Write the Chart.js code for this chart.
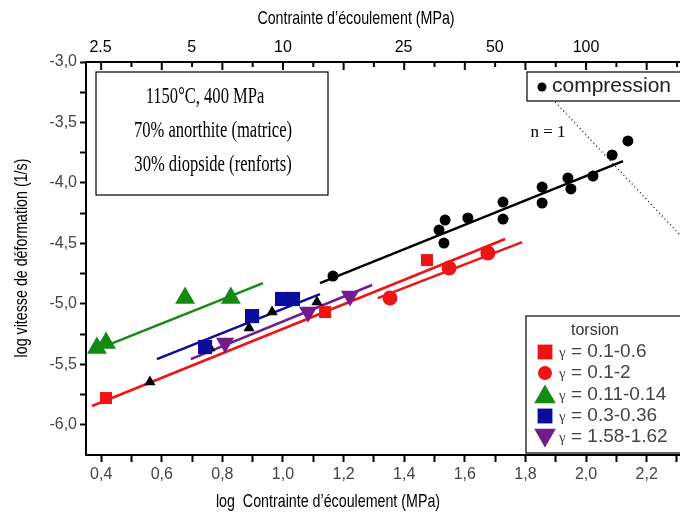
<!DOCTYPE html>
<html>
<head>
<meta charset="utf-8">
<script src="https://cdn.jsdelivr.net/npm/chart.js@4.4.0/dist/chart.umd.min.js"></script>
<style>
  html, body { margin: 0; padding: 0; background: #fff; }
  #wrap { width: 680px; height: 515px; }
</style>
</head>
<body>
<div id="wrap"><canvas id="chart" width="680" height="515"></canvas></div>
<script>
// log stress (x) / log strain rate (y)
const compressionX = [1.165, 1.515, 1.535, 1.531, 1.610, 1.726, 1.726, 1.855, 1.855, 1.940, 1.950, 2.023, 2.086, 2.138];
const compressionY = [-4.770, -4.390, -4.307, -4.497, -4.290, -4.158, -4.299, -4.034, -4.166, -3.959, -4.050, -3.943, -3.769, -3.653];

const redSquareX = [0.416, 1.139, 1.475];
const redSquareY = [-5.779, -5.068, -4.638];
const redCircleX = [1.353, 1.548, 1.676];
const redCircleY = [-4.952, -4.704, -4.580];
const greenX = [0.386, 0.416, 0.677, 0.828];
const greenY = [-5.366, -5.324, -4.952, -4.952];
const blueX = [0.743, 0.898, 0.997, 1.033];
const blueY = [-5.357, -5.101, -4.960, -4.960];
const purpleX = [0.809, 1.083, 1.221];
const purpleY = [-5.324, -5.068, -4.935];
const smallTriX = [0.561, 0.759, 0.888, 0.964, 0.990, 1.112];
const smallTriY = [-5.647, -5.366, -5.200, -5.068, -4.985, -4.985];

// fitted lines (end points)
const fitCompressionX = [1.122, 2.122];
const fitCompressionY = [-4.828, -3.819];
const fitRed1X = [0.370, 1.733];
const fitRed1Y = [-5.845, -4.464];
const fitRed2X = [1.313, 1.789];
const fitRed2Y = [-4.952, -4.489];
const fitGreenX = [0.380, 0.934];
const fitGreenY = [-5.382, -4.828];
const fitBlueX = [0.584, 1.122];
const fitBlueY = [-5.457, -4.919];
const fitPurpleX = [0.696, 1.294];
const fitPurpleY = [-5.457, -4.844];
const dottedX = [1.898, 2.310];
const dottedY = [-3.331, -4.431];

const torsionLabels = ['0.1-0.6', '0.1-2', '0.11-0.14', '0.3-0.36', '1.58-1.62'];
const infoLines = ['1150°C, 400 MPa', '70% anorthite (matrice)', '30% diopside (renforts)'];

const xTickValues = [0.4, 0.5, 0.6, 0.7, 0.8, 0.9, 1.0, 1.1, 1.2, 1.3, 1.4, 1.5, 1.6, 1.7, 1.8, 1.9, 2.0, 2.1, 2.2, 2.3];
const yTickValues = [-6.0, -5.75, -5.5, -5.25, -5.0, -4.75, -4.5, -4.25, -4.0, -3.75, -3.5, -3.25, -3.0];
const topTickValues = [2.5, 5, 10, 25, 50, 100];

const RED = '#ee1414';
const GREEN = '#138a13';
const BLUE = '#0c0c9c';
const PURPLE = '#741a8a';

const pts = (xs, ys) => xs.map((x, i) => ({ x, y: ys[i] }));
const comma = v => v.toFixed(1).replace('.', ',');
const isMajor = v => Math.abs(v * 5 - Math.round(v * 5)) < 1e-6;

function markers(label, xs, ys, color, style, radius, rotation) {
  return {
    label, data: pts(xs, ys), showLine: false,
    pointStyle: style, pointRadius: radius, pointRotation: rotation || 0,
    backgroundColor: color, borderColor: color, pointBorderWidth: 0,
  };
}
function fit(xs, ys, color, width, dash) {
  return {
    data: pts(xs, ys), showLine: true, pointRadius: 0,
    borderColor: color, borderWidth: width, borderDash: dash || [],
  };
}

const datasets = [
  markers('compression', compressionX, compressionY, '#000', 'circle', 5.5),
  markers('0.1-0.6', redSquareX, redSquareY, RED, 'rect', 8.5),
  markers('0.1-2', redCircleX, redCircleY, RED, 'circle', 7.5),
  markers('0.11-0.14', greenX, greenY, GREEN, 'triangle', 11.5),
  markers('0.3-0.36', blueX, blueY, BLUE, 'rect', 10),
  markers('1.58-1.62', purpleX, purpleY, PURPLE, 'triangle', 10.5, 180),
  markers('', smallTriX, smallTriY, '#000', 'triangle', 6.5),
  fit(fitCompressionX, fitCompressionY, '#000', 2.5),
  fit(fitRed1X, fitRed1Y, RED, 2.5),
  fit(fitRed2X, fitRed2Y, RED, 2.5),
  fit(fitGreenX, fitGreenY, GREEN, 2.5),
  fit(fitBlueX, fitBlueY, BLUE, 2.5),
  fit(fitPurpleX, fitPurpleY, PURPLE, 2.5),
  fit(dottedX, dottedY, '#000', 1.2, [1, 3]),
];

function narrowText(ctx, text, x, y, sx, rot) {
  ctx.save();
  ctx.translate(x, y);
  if (rot) ctx.rotate(rot);
  ctx.scale(sx, 1);
  ctx.fillText(text, 0, 0);
  ctx.restore();
}

const overlay = {
  id: 'overlay',
  afterDraw(chart) {
    const ctx = chart.ctx;
    const a = chart.chartArea;
    const xs = chart.scales.x;
    ctx.save();

    // inward ticks on the top border
    ctx.strokeStyle = '#000';
    ctx.lineWidth = 2;
    xTickValues.forEach(v => {
      const px = xs.getPixelForValue(v);
      ctx.beginPath();
      ctx.moveTo(px, a.top);
      ctx.lineTo(px, a.top + (isMajor(v) ? 8 : 5));
      ctx.stroke();
    });

    // axis titles
    ctx.fillStyle = '#000';
    ctx.textAlign = 'center';
    ctx.textBaseline = 'middle';
    ctx.font = '19px "Liberation Sans", Arial, sans-serif';
    narrowText(ctx, 'Contrainte d\u2019écoulement (MPa)', 356, 19, 0.75);
    narrowText(ctx, 'log  Contrainte d\u2019écoulement (MPa)', 328, 502, 0.75);
    narrowText(ctx, 'log vitesse de déformation (1/s)', 22, 258, 0.75, -Math.PI / 2);

    // info box
    ctx.lineWidth = 1.2;
    ctx.strokeRect(a.left + 10, a.top + 10, 232, 123);
    ctx.font = '24px "Liberation Serif", "Times New Roman", serif';
    narrowText(ctx, infoLines[0], 205, 97, 0.69);
    narrowText(ctx, infoLines[1], 213, 131, 0.69);
    narrowText(ctx, infoLines[2], 213, 165, 0.69);

    // n = 1
    ctx.font = '17px "Liberation Serif", serif';
    ctx.fillText('n = 1', 548, 133);

    // compression legend
    const cx = a.right - 153, cy = a.top + 10;
    ctx.fillStyle = '#fff';
    ctx.fillRect(cx, cy, 180, 29);
    ctx.strokeRect(cx, cy, 180, 29);
    const c0 = datasets[0];
    ctx.fillStyle = c0.backgroundColor;
    Chart.helpers.drawPoint(ctx, { pointStyle: c0.pointStyle, radius: 4.5, borderWidth: 0 }, cx + 15, cy + 15);
    ctx.fillStyle = '#222';
    ctx.textAlign = 'left';
    ctx.font = '21px "Liberation Sans", Arial, sans-serif';
    ctx.fillText('compression', cx + 25, cy + 14);

    // torsion legend
    const lx = a.right - 154, ly = a.top + 254;
    ctx.fillStyle = '#fff';
    ctx.fillRect(lx, ly, 180, a.bottom - ly - 2);
    ctx.strokeRect(lx, ly, 180, a.bottom - ly - 2);
    ctx.fillStyle = '#333';
    ctx.textAlign = 'center';
    ctx.font = '16px "Liberation Sans", Arial, sans-serif';
    ctx.fillText('torsion', lx + 69, ly + 15);
    const legendRadius = [10.5, 7, 12.5, 10.5, 12.5];
    const rowY = [36, 57, 79, 100, 121];
    torsionLabels.forEach((t, i) => {
      const ds = datasets[i + 1];
      const y = ly + rowY[i];
      ctx.fillStyle = ds.backgroundColor;
      ctx.strokeStyle = ds.borderColor;
      Chart.helpers.drawPoint(ctx, {
        pointStyle: ds.pointStyle, radius: legendRadius[i],
        rotation: ds.pointRotation, borderWidth: 0,
      }, lx + 19, y + (ds.pointStyle === 'triangle' ? (ds.pointRotation ? -2 : 2) : 0));
      ctx.fillStyle = '#444';
      ctx.textAlign = 'left';
      ctx.font = '15px "Liberation Serif", serif';
      ctx.fillText('\u03b3', lx + 33, y + 1);
      ctx.font = '19px "Liberation Sans", Arial, sans-serif';
      ctx.fillText('= ' + t, lx + 45, y);
    });
    ctx.restore();
  }
};

const tickFont = { family: '"Liberation Sans", Arial, sans-serif', size: 16 };

new Chart(document.getElementById('chart'), {
  type: 'scatter',
  data: { datasets },
  options: {
    responsive: false,
    animation: false,
    events: [],
    layout: { padding: 0, autoPadding: false },
    plugins: { legend: { display: false }, tooltip: { enabled: false } },
    scales: {
      x: {
        type: 'linear', position: 'bottom', min: 0.35, max: 2.31,
        afterBuildTicks: s => { s.ticks = xTickValues.map(v => ({ value: v })); },
        afterFit: s => { s.height = 60; },
        ticks: {
          autoSkip: false, maxRotation: 0, padding: 3, color: '#444', font: tickFont,
          callback: v => (isMajor(v) ? comma(v) : ''),
        },
        grid: { drawOnChartArea: false, tickLength: 7, tickWidth: 2, tickColor: '#000' },
        border: { color: '#000', width: 2 },
      },
      x2: {
        type: 'linear', position: 'top', min: 0.35, max: 2.31,
        afterBuildTicks: s => { s.ticks = topTickValues.map(v => ({ value: Math.log10(v) })); },
        afterFit: s => { s.height = 62; },
        ticks: {
          autoSkip: false, maxRotation: 0, padding: 5, color: '#000', font: tickFont,
          callback: (v, i) => String(topTickValues[i]),
        },
        grid: { drawOnChartArea: false, drawTicks: false },
        border: { color: '#000', width: 2 },
      },
      y: {
        type: 'linear', position: 'left', min: -6.25, max: -3.0,
        afterBuildTicks: s => { s.ticks = yTickValues.map(v => ({ value: v })); },
        afterFit: s => { s.width = 86; },
        ticks: {
          autoSkip: false, padding: 3, color: '#444', font: tickFont,
          callback: v => (Math.abs(v * 2 - Math.round(v * 2)) < 1e-6 ? comma(v) : ''),
        },
        grid: { drawOnChartArea: false, tickLength: 6, tickWidth: 2, tickColor: '#000' },
        border: { color: '#000', width: 2 },
      },
    },
  },
  plugins: [overlay],
});
</script>
</body>
</html>
